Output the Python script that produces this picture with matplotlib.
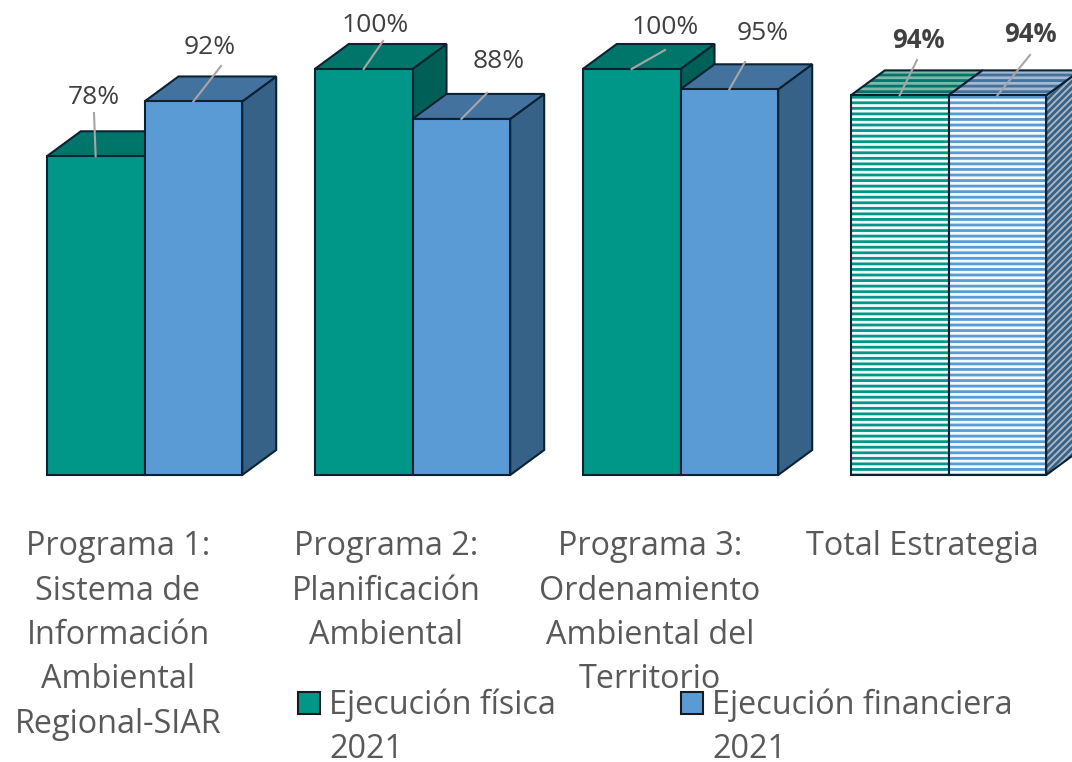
import matplotlib.pyplot as plt
from matplotlib.patches import Polygon, Rectangle
from matplotlib.transforms import Affine2D

W, H = 1072, 762
plt.rcParams['font.family'] = ['Open Sans', 'DejaVu Sans']
plt.rcParams['hatch.linewidth'] = 2.0

programas = ['Programa 1:\nSistema de\nInformación\nAmbiental\nRegional-SIAR',
             'Programa 2:\nPlanificación\nAmbiental',
             'Programa 3:\nOrdenamiento\nAmbiental del\nTerritorio',
             'Total Estrategia']
fisica = [78.5, 100, 100, 93.5]
financiera = [92, 87.7, 95, 93.5]
etiq_fisica = ['78%', '100%', '100%', '94%']
etiq_financiera = ['92%', '88%', '95%', '94%']
leyenda = ['Ejecución física\n2021', 'Ejecución financiera\n2021']

# colores: frente, arriba, lado
verde = ('#009688', '#00766b', '#005f57')
azul = ('#5b9bd5', '#44729f', '#376287')
borde = '#0c2233'
gris = '#404040'

# escala: 268 px por grupo, 4.06 px por punto porcentual
px_x = 268
px_y = 4.06
x_base = 144.5
y_base = 475
ancho = 97.7 / px_x
dx = 34 / px_x
dy = 25 / px_y

fig = plt.figure(figsize=(W / 100, H / 100), dpi=100)
ax = fig.add_axes([0, 0, 1, 1])
ax.set_xlim(-x_base / px_x, (W - x_base) / px_x)
ax.set_ylim(-(H - y_base) / px_y, y_base / px_y)
ax.axis('off')

# para ubicar textos en pixeles de la imagen
pix = Affine2D().scale(1, -1).translate(0, H)


def barra(x, v, colores, rayas=False):
    if rayas:
        hf = dict(facecolor='#f2fbfb', hatch='---', edgecolor=colores[0], lw=0)
        ht = dict(facecolor='#7fb8ab' if colores is verde else '#a3b9d0', hatch='---', edgecolor=colores[1], lw=0)
        hs = dict(facecolor='#a9b6c3', hatch='/////', edgecolor=colores[2], lw=0)
    else:
        hf = dict(facecolor=colores[0], lw=0)
        ht = dict(facecolor=colores[1], lw=0)
        hs = dict(facecolor=colores[2], lw=0)
    caras = [
        ([(x + ancho, 0), (x + ancho + dx, dy), (x + ancho + dx, v + dy), (x + ancho, v)], hs),
        ([(x, v), (x + dx, v + dy), (x + ancho + dx, v + dy), (x + ancho, v)], ht),
        ([(x, 0), (x + ancho, 0), (x + ancho, v), (x, v)], hf),
    ]
    for pts, estilo in caras:
        ax.add_patch(Polygon(pts, closed=True, **estilo))
        ax.add_patch(Polygon(pts, closed=True, fill=False, edgecolor=borde, lw=1.5))


for i in range(4):
    barra(i - ancho, fisica[i], verde, rayas=i == 3)
    barra(i, financiera[i], azul, rayas=i == 3)

# etiquetas con linea guia
pos_fisica = [(94, 98), (375, 25), (665, 27), (918, 41)]
pos_financiera = [(210, 48), (499, 62), (763, 33), (1030, 34)]
guia_fisica = [(94, 113), (383, 41), (665, 50), (917, 60)]
guia_financiera = [(221, 66), (487, 93), (745, 62), (1030, 55)]
for i in range(4):
    peso = 'bold' if i == 3 else 'normal'
    tam = 18.5 if i == 3 else 19
    xa = x_base + px_x * i - ancho * px_x / 2
    xb = x_base + px_x * i + ancho * px_x / 2
    ya = y_base - fisica[i] * px_y
    yb = y_base - financiera[i] * px_y
    ax.plot([guia_fisica[i][0], xa], [guia_fisica[i][1], ya], color='#a6a6a6', lw=1.5, transform=pix)
    ax.plot([guia_financiera[i][0], xb], [guia_financiera[i][1], yb], color='#a6a6a6', lw=1.5, transform=pix)
    ax.text(*pos_fisica[i], etiq_fisica[i], transform=pix, ha='center', va='center', fontsize=tam, color=gris, fontweight=peso)
    ax.text(*pos_financiera[i], etiq_financiera[i], transform=pix, ha='center', va='center', fontsize=tam, color=gris, fontweight=peso)

# categorias
x_cat = [118, 386, 650, 922]
for x, t in zip(x_cat, programas):
    ax.text(x, 530, t, transform=pix, ha='center', va='top', fontsize=23.3, color='#595959', linespacing=1.46)

# leyenda
for x_cuadro, t, c in zip([298, 681], leyenda, [verde[0], azul[0]]):
    ax.add_patch(Rectangle((x_cuadro, 692), 22, 22, transform=pix, facecolor=c, edgecolor='#1a1a1a', lw=1.5))
    ax.text(x_cuadro + 31, 688, t, transform=pix, ha='left', va='top', fontsize=23.3, color='#595959', linespacing=1.46)

fig.savefig('out.png', dpi=100)
